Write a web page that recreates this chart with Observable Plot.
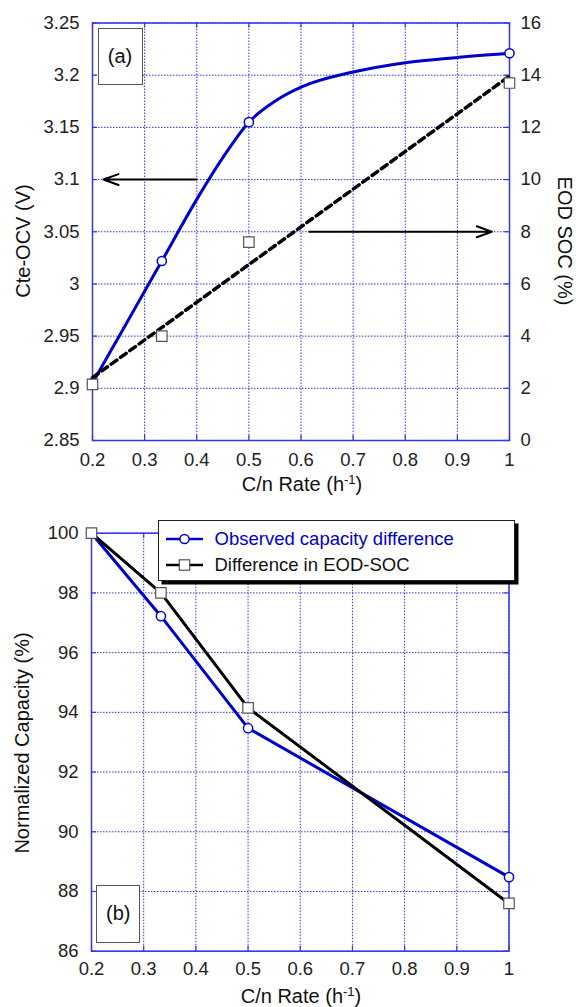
<!DOCTYPE html>
<html>
<head>
<meta charset="utf-8">
<script src="https://cdn.jsdelivr.net/npm/d3@7"></script>
<script src="https://cdn.jsdelivr.net/npm/@observablehq/plot@0.6"></script>
<style>
  body { margin: 0; background: #fff; }
  #wrap { position: relative; width: 576px; height: 1007px; overflow: hidden;
          font-family: "Liberation Sans", Arial, Helvetica, sans-serif; color: #111; }
  #wrap > svg { position: absolute; left: 0; }
  .title { position: absolute; font-size: 20px; line-height: 20px; white-space: nowrap; }
  .title sup { font-size: 13px; line-height: 0; vertical-align: 7px; }
  .tag { position: absolute; box-sizing: border-box; border: 1.5px solid #555; background: #fff;
         font-size: 20px; display: flex; align-items: center; justify-content: center; }
  .legend { position: absolute; box-sizing: border-box; background: #fff; border: 1.5px solid #222;
            box-shadow: 3.5px 3.5px 0 #000; font-size: 18.5px; }
  .legend .row { position: absolute; left: 0; height: 22px; display: flex; align-items: center; white-space: nowrap; }
  #wrap .legend svg { position: static; display: block; margin-left: 7px; margin-right: 12px; flex: none; }
</style>
</head>
<body>
<div id="wrap">
  <div class="title" style="left:302px;top:474px;transform:translateX(-50%)">C/n Rate (h<sup>-1</sup>)</div>
  <div class="title" style="left:301px;top:986px;transform:translateX(-50%)">C/n Rate (h<sup>-1</sup>)</div>
  <div class="title" style="left:23px;top:241px;transform:translate(-50%,-50%) rotate(-90deg)">Cte-OCV (V)</div>
  <div class="title" style="left:565px;top:241px;transform:translate(-50%,-50%) rotate(90deg)">EOD SOC (%)</div>
  <div class="title" style="left:22px;top:743px;transform:translate(-50%,-50%) rotate(-90deg)">Normalized Capacity (%)</div>
</div>
<script>
// ---- Panel (a): constant-current OCV and end-of-discharge SOC against C/n rate
const rates = [0.2, 0.333, 0.5, 1.0];
const cteOcv = [2.905, 3.022, 3.155, 3.221];      // V, left axis
const eodSoc = [2.15, 4.0, 7.6, 13.7];            // %, right axis

// smooth OCV trend, traced along its length
const ocvTrendRate = [0.2, 0.25, 0.3, 0.333, 0.4, 0.45, 0.5, 0.55, 0.6, 0.7, 0.8, 0.9, 1.0];
const ocvTrendV    = [2.905, 2.949, 2.993, 3.022, 3.081, 3.121, 3.155, 3.175, 3.1885, 3.203, 3.212, 3.217, 3.221];

// arrows pointing each series to its own axis
const ocvArrow = [{from: 0.4, to: 0.221, level: 3.1}];
const socArrow = [{from: 0.616, to: 0.966, level: 8}];

// ---- Panel (b): normalized capacity against C/n rate
const observedCapacity = [100, 97.22, 93.47, 88.48];
const eodSocCapacity   = [100, 98.0, 94.15, 87.6];

// tick values
const rateTicks = [0.2, 0.3, 0.4, 0.5, 0.6, 0.7, 0.8, 0.9, 1];
const ocvTicks = [2.85, 2.9, 2.95, 3, 3.05, 3.1, 3.15, 3.2, 3.25];
const socTicks = [0, 2, 4, 6, 8, 10, 12, 14, 16];
const capTicks = [86, 88, 90, 92, 94, 96, 98, 100];

const seriesNames = ["Observed capacity difference", "Difference in EOD-SOC"];

// ---- shared styling
const FONT = '"Liberation Sans", Arial, Helvetica, sans-serif';
const BLUE = "#0000cc";
const FRAME = "#3434f0";
const GRID = "#3030ff";
const SQUARE_EDGE = "#555";
const TICK_LEN = 5;

const rowsA = rates.map((r, i) => ({rate: r, ocv: cteOcv[i], soc: eodSoc[i]}));
const trendA = ocvTrendRate.map((r, i) => ({rate: r, ocv: ocvTrendV[i]}));
const rowsB = rates.map((r, i) => ({rate: r, observed: observedCapacity[i], soc: eodSocCapacity[i]}));

function baseStyle() {
  return {fontFamily: FONT, fontSize: "18.5px", color: "#222", background: "transparent", overflow: "visible"};
}

// grid, frame and inward ticks for one panel
function panelFrame(yTicks, box) {
  const fw = box.width - box.marginLeft - box.marginRight;
  const fh = box.height - box.marginTop - box.marginBottom;
  const grid = {stroke: GRID, strokeOpacity: 1, strokeWidth: 1, strokeDasharray: "1.5,1.5"};
  const tick = {stroke: FRAME, strokeWidth: 1.2};
  return [
    Plot.gridX(rateTicks, grid),
    Plot.gridY(yTicks, grid),
    Plot.frame({stroke: FRAME, strokeWidth: 1.5}),
    Plot.tickX(rateTicks, {...tick, insetTop: fh - TICK_LEN}),
    Plot.tickX(rateTicks, {...tick, insetBottom: fh - TICK_LEN}),
    Plot.tickY(yTicks, {...tick, insetRight: fw - TICK_LEN}),
    Plot.tickY(yTicks, {...tick, insetLeft: fw - TICK_LEN})
  ];
}

const wrap = document.getElementById("wrap");

// ---- Panel (a), left scale: OCV
const boxA = {width: 576, height: 500, marginLeft: 92, marginRight: 67, marginTop: 22.5, marginBottom: 60};
const plotA = Plot.plot({
  ...boxA,
  style: baseStyle(),
  x: {domain: [0.2, 1]},
  y: {domain: [2.85, 3.25]},
  marks: [
    ...panelFrame(ocvTicks, boxA),
    Plot.line(trendA, {x: "rate", y: "ocv", curve: "monotone-x", stroke: BLUE, strokeWidth: 3}),
    Plot.dot(rowsA, {x: "rate", y: "ocv", r: 4.6, fill: "white", stroke: BLUE, strokeWidth: 1.5}),
    Plot.arrow(ocvArrow, {x1: "from", x2: "to", y1: "level", y2: "level", stroke: "#000",
                          strokeWidth: 2, headLength: 12, headAngle: 40}),
    Plot.axisX(rateTicks, {tickSize: 0, tickPadding: 12, tickFormat: String, label: null, fontSize: 18.5}),
    Plot.axisY(ocvTicks, {anchor: "left", tickSize: 0, tickPadding: 13, tickFormat: String, label: null, fontSize: 18.5})
  ]
});
plotA.style.top = "0px";
wrap.appendChild(plotA);

// ---- Panel (a), right scale: EOD SOC with its linear trend
const plotA2 = Plot.plot({
  ...boxA,
  style: baseStyle(),
  x: {domain: [0.2, 1], axis: null},
  y: {domain: [0, 16]},
  marks: [
    Plot.linearRegressionY(rowsA, {x: "rate", y: "soc", ci: 0, stroke: "#000", strokeWidth: 3.5,
                                   strokeDasharray: "7,4.5"}),
    Plot.dot(rowsA, {x: "rate", y: "soc", symbol: "square", r: 5.9, fill: "white",
                     stroke: SQUARE_EDGE, strokeWidth: 1.2}),
    Plot.arrow(socArrow, {x1: "from", x2: "to", y1: "level", y2: "level", stroke: "#000",
                          strokeWidth: 2, headLength: 12, headAngle: 40}),
    Plot.axisY(socTicks, {anchor: "right", tickSize: 0, tickPadding: 11, tickFormat: String, label: null, fontSize: 18.5})
  ]
});
plotA2.style.top = "0px";
wrap.appendChild(plotA2);

// ---- Panel (b)
const boxB = {width: 576, height: 507, marginLeft: 91, marginRight: 67.5, marginTop: 32.7, marginBottom: 56.3};
const plotB = Plot.plot({
  ...boxB,
  style: baseStyle(),
  x: {domain: [0.2, 1]},
  y: {domain: [86, 100]},
  marks: [
    ...panelFrame(capTicks, boxB),
    Plot.line(rowsB, {x: "rate", y: "observed", stroke: BLUE, strokeWidth: 3}),
    Plot.line(rowsB, {x: "rate", y: "soc", stroke: "#000", strokeWidth: 3}),
    Plot.dot(rowsB, {x: "rate", y: "observed", r: 4.6, fill: "white", stroke: BLUE, strokeWidth: 1.5}),
    Plot.dot(rowsB, {x: "rate", y: "soc", symbol: "square", r: 5.9, fill: "white",
                     stroke: SQUARE_EDGE, strokeWidth: 1.2}),
    Plot.axisX(rateTicks, {tickSize: 0, tickPadding: 11, tickFormat: String, label: null, fontSize: 18.5}),
    Plot.axisY(capTicks, {anchor: "left", tickSize: 0, tickPadding: 13, tickFormat: String, label: null, fontSize: 18.5})
  ]
});
plotB.style.top = "500px";
wrap.appendChild(plotB);

// ---- panel tags
function addTag(text, left, top, w, h) {
  const d = document.createElement("div");
  d.className = "tag";
  Object.assign(d.style, {left: left + "px", top: top + "px", width: w + "px", height: h + "px"});
  d.textContent = text;
  wrap.appendChild(d);
}
addTag("(a)", 97.5, 28.3, 45, 57);
addTag("(b)", 96.3, 885, 44, 57.5);

// ---- legend for panel (b)
const legend = document.createElement("div");
legend.className = "legend";
Object.assign(legend.style, {left: "157.5px", top: "519.5px", width: "357px", height: "61px"});
const swatches = [
  {color: BLUE, text: seriesNames[0], marker: "circle", top: 7},
  {color: "#000", text: seriesNames[1], marker: "square", top: 33.5}
];
const ns = "http://www.w3.org/2000/svg";
const setAttrs = (el, attrs) => Object.entries(attrs).forEach(([k, v]) => el.setAttribute(k, v));
for (const s of swatches) {
  const row = document.createElement("div");
  row.className = "row";
  row.style.top = s.top + "px";
  const sv = document.createElementNS(ns, "svg");
  setAttrs(sv, {width: 37, height: 14});
  const ln = document.createElementNS(ns, "line");
  setAttrs(ln, {x1: 0, x2: 37, y1: 7, y2: 7, stroke: s.color, "stroke-width": 2.5});
  sv.appendChild(ln);
  let mk;
  if (s.marker === "circle") {
    mk = document.createElementNS(ns, "circle");
    setAttrs(mk, {cx: 18.5, cy: 7, r: 4.6, fill: "white", stroke: s.color, "stroke-width": 1.5});
  } else {
    mk = document.createElementNS(ns, "rect");
    setAttrs(mk, {x: 13.3, y: 1.8, width: 10.4, height: 10.4, fill: "white", stroke: SQUARE_EDGE, "stroke-width": 1.2});
  }
  sv.appendChild(mk);
  row.appendChild(sv);
  const t = document.createElement("span");
  t.textContent = s.text;
  t.style.color = s.color === BLUE ? BLUE : "#111";
  row.appendChild(t);
  legend.appendChild(row);
}
wrap.appendChild(legend);
</script>
</body>
</html>
